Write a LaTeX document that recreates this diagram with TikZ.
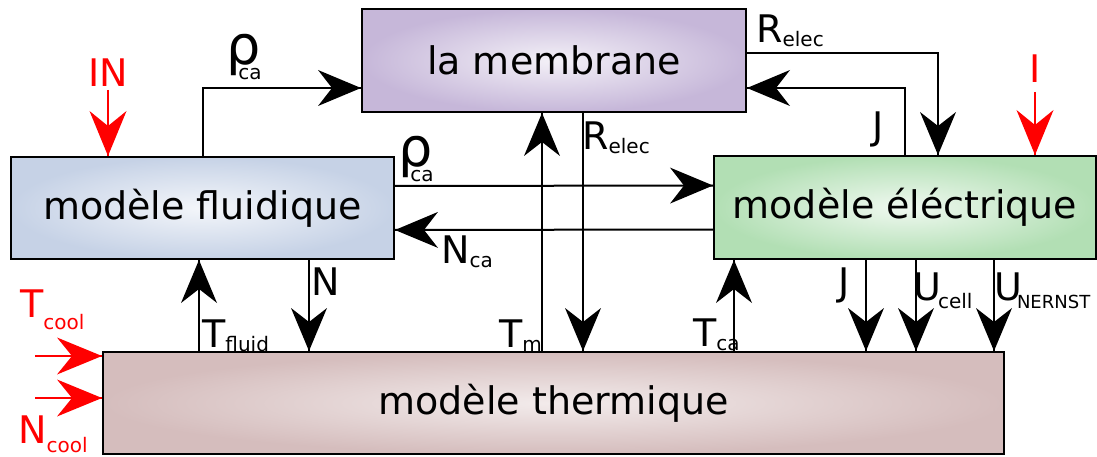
\documentclass[tikz,border=0pt]{standalone}
\usepackage{fontspec}
\setmainfont{DejaVu Sans}
\usetikzlibrary{decorations.markings}

\definecolor{membrcol}{HTML}{C6B7D9}
\definecolor{fluidcol}{HTML}{C6D2E6}
\definecolor{eleccol}{HTML}{B2DFB4}
\definecolor{thermcol}{HTML}{D5BDBD}

\tikzset{
    model/.style={draw, line width=2pt, inner sep=0pt, shading=radial,
        font=\fontsize{38}{40}\selectfont},
    arr/.style={line width=2pt, postaction={decorate},
        decoration={markings, mark=at position 1 with
            {\fill (0pt,0pt) -- (-43pt,18pt) -- (-29pt,0pt) -- (-43pt,-18pt) -- cycle;}}},
    redarr/.style={red, line width=2pt, postaction={decorate},
        decoration={markings, mark=at position 1 with
            {\fill (0pt,0pt) -- (-45pt,18.5pt) -- (-30pt,0pt) -- (-45pt,-18.5pt) -- cycle;}}},
    lbl/.style={inner sep=0pt, anchor=base west, font=\fontsize{38}{40}\selectfont},
}
\newcommand{\subtxt}[2][4pt]{\raisebox{-#1}{\fontsize{20}{20}\selectfont #2}}
\newcommand{\rhoca}{{\fontsize{54}{54}\selectfont ρ}\kern-22pt\subtxt[15pt]{ca}}

\begin{document}
\begin{tikzpicture}[x=1pt, y=1pt]
    \useasboundingbox (0,0) rectangle (1097,-457);

    % the four models
    \node [model, minimum width=384pt, minimum height=103pt,
        inner color=white!80!membrcol, outer color=membrcol]
        (membr) at (554,-60.5) {la membrane};
    \node [model, minimum width=383pt, minimum height=102pt,
        inner color=white!80!fluidcol, outer color=fluidcol]
        (fluid) at (202.5,-208) {modèle fluidique};
    \node [model, minimum width=382pt, minimum height=103pt,
        inner color=white!80!eleccol, outer color=eleccol]
        (elec) at (905,-207.5) {modèle éléctrique};
    \node [model, minimum width=901pt, minimum height=102pt,
        inner color=white!70!thermcol, outer color=thermcol]
        (therm) at (553.5,-403) {modèle thermique};

    % exchanges between models
    \draw [arr] (fluid.north) |- ([yshift=-27.5pt]membr.west);
    \draw [arr] ([yshift=7.5pt]membr.east) -| ([xshift=33pt]elec.north);
    \draw [arr] (elec.north) |- ([yshift=-27.5pt]membr.east);
    \draw [arr] ([yshift=22pt]fluid.east) -- ([yshift=22pt]elec.west);
    \draw [arr] ([yshift=-22pt]elec.west) -- ([yshift=-22pt]fluid.east);
    \draw [arr] ([xshift=-11.5pt]therm.north) -- ([xshift=-12pt]membr.south);
    \draw [arr] ([xshift=29pt]membr.south) -- ([xshift=29.5pt]therm.north);
    \draw [arr] ([xshift=180.5pt]therm.north) -- ([xshift=-171pt]elec.south);
    \draw [arr] ([xshift=-354.5pt]therm.north) -- ([xshift=-3.5pt]fluid.south);
    \draw [arr] ([xshift=106.5pt]fluid.south) -- ([xshift=-244.5pt]therm.north);
    \draw [arr] ([xshift=-39pt]elec.south) -- ([xshift=312.5pt]therm.north);
    \draw [arr] ([xshift=11pt]elec.south) -- ([xshift=362.5pt]therm.north);
    \draw [arr] ([xshift=89pt]elec.south) -- ([xshift=440.5pt]therm.north);

    % inputs
    \coordinate (inIN) at (108,-90);
    \coordinate (inI) at (1035,-92);
    \coordinate (inT) at (35,-356);
    \coordinate (inN) at (35,-398);
    \draw [redarr] (inIN) -- (fluid.north -| inIN);
    \draw [redarr] (inI) -- (elec.north -| inI);
    \draw [redarr] (inT) -- (therm.west |- inT);
    \draw [redarr] (inN) -- (therm.west |- inN);

    % labels
    \node [lbl] (lrhoa) at (226,-65) {\rhoca};
    \node [lbl] (lrhob) at (398,-167) {\rhoca};
    \node [lbl] (lreleca) at (756,-43) {R\subtxt{elec}};
    \node [lbl] (lja) at (872,-140) {J};
    \node [lbl] (lnca) at (441,-263) {N\subtxt{ca}};
    \node [lbl] (lrelecb) at (582,-150) {R\subtxt{elec}};
    \node [lbl] (ltm) at (499,-347) {T\subtxt{m}};
    \node [lbl] (ltca) at (693,-346) {T\subtxt{ca}};
    \node [lbl] (ltfluid) at (202,-347) {T\subtxt{fluid}};
    \node [lbl] (ln) at (311,-295) {N};
    \node [lbl] (ljb) at (838,-295) {J};
    \node [lbl] (lucell) at (913,-300) {U\kern-3pt\subtxt[8pt]{cell}};
    \node [lbl] (lunernst) at (994,-300)
        {U\kern-5pt\raisebox{-8pt}{\fontsize{18}{18}\selectfont NERNST}};
    \node [lbl, red] (lin) at (88,-87) {IN};
    \node [lbl, red] (li) at (1029,-83) {I};
    \node [lbl, red] (ltcool) at (20,-317) {T\subtxt[12pt]{cool}};
    \node [lbl, red] (lncool) at (18,-443) {N\subtxt[9pt]{cool}};
\end{tikzpicture}
\end{document}
